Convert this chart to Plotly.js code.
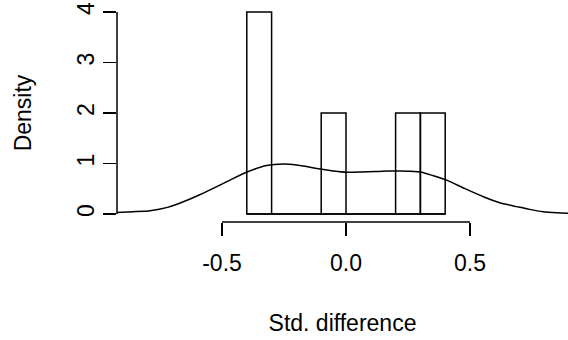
<!DOCTYPE html>
<html>
<head>
<meta charset="utf-8">
<script src="https://cdn.plot.ly/plotly-3.0.1.min.js"></script>
<style>html,body{margin:0;padding:0;background:#fff;}#chart{width:568px;height:340px;}</style>
</head>
<body>
<div id="chart"></div>
<script>
// Histogram breaks and densities
const breaks = [-0.4, -0.3, -0.2, -0.1, 0.0, 0.1, 0.2, 0.3, 0.4];
const densities = [4, 0, 0, 2, 0, 0, 2, 2];

// Kernel density curve
const densX = [-0.925, -0.86, -0.79, -0.72, -0.656, -0.59, -0.521, -0.46, -0.394, -0.32, -0.253, -0.199, -0.15, -0.098, -0.05, 0.003, 0.06, 0.117, 0.17, 0.218, 0.26, 0.305, 0.35, 0.406, 0.48, 0.554, 0.62, 0.688, 0.74, 0.796, 0.85, 0.895];
const densY = [0.03, 0.045, 0.065, 0.13, 0.24, 0.38, 0.54, 0.69, 0.84, 0.96, 0.99, 0.97, 0.93, 0.885, 0.85, 0.825, 0.83, 0.84, 0.85, 0.85, 0.845, 0.825, 0.76, 0.67, 0.5, 0.34, 0.22, 0.145, 0.09, 0.045, 0.025, 0.015];

const xTicks = [-0.5, 0.0, 0.5];
const xTickText = ['-0.5', '0.0', '0.5'];
const yTicks = [0, 1, 2, 3, 4];

const centers = densities.map((d, i) => (breaks[i] + breaks[i + 1]) / 2);
const widths = densities.map((d, i) => breaks[i + 1] - breaks[i]);

const LW = 1.5;

const traces = [
  {
    type: 'bar', x: centers, y: densities, width: widths,
    marker: {color: 'rgba(255,255,255,0)', line: {color: '#000', width: LW}},
    hoverinfo: 'skip', showlegend: false
  },
  {
    type: 'scatter', mode: 'lines',
    x: [breaks[0], breaks[breaks.length - 1]], y: [0, 0],
    line: {color: '#000', width: LW}, hoverinfo: 'skip', showlegend: false
  },
  {
    type: 'scatter', mode: 'lines', x: densX, y: densY,
    line: {color: '#000', width: LW, shape: 'spline', smoothing: 0.6},
    hoverinfo: 'skip', showlegend: false
  }
];

const font = {family: 'Arial, "Liberation Sans", sans-serif', size: 23, color: '#000'};

const layout = {
  width: 568, height: 340,
  margin: {l: 117, r: 0, t: 4, b: 117.5},
  paper_bgcolor: '#fff', plot_bgcolor: '#fff',
  font: font,
  showlegend: false,
  xaxis: {
    range: [-0.9234, 0.8952], showgrid: false, zeroline: false, showline: false,
    tickmode: 'array', tickvals: xTicks, ticktext: xTickText,
    ticks: 'outside', ticklen: 13, tickwidth: LW, tickcolor: '#000',
    ticklabelstandoff: 7,
    tickfont: font,
    title: {text: 'Std. difference', font: font, standoff: 40}
  },
  yaxis: {
    range: [-0.16, 4.16], showgrid: false, zeroline: false, showline: false,
    tickmode: 'array', tickvals: yTicks,
    ticks: 'outside', ticklen: 13, tickwidth: LW, tickcolor: '#000',
    tickangle: -90, ticklabelstandoff: 0,
    tickfont: font,
    title: {text: 'Density', font: font, standoff: 34}
  },
  shapes: [
    {type: 'line', xref: 'x', yref: 'paper', x0: xTicks[0], x1: xTicks[xTicks.length - 1], y0: 0, y1: 0, line: {color: '#000', width: LW}},
    {type: 'line', xref: 'paper', yref: 'y', x0: 0, x1: 0, y0: yTicks[0], y1: yTicks[yTicks.length - 1], line: {color: '#000', width: LW}}
  ]
};

Plotly.newPlot('chart', traces, layout, {staticPlot: true, displayModeBar: false});
</script>
</body>
</html>
